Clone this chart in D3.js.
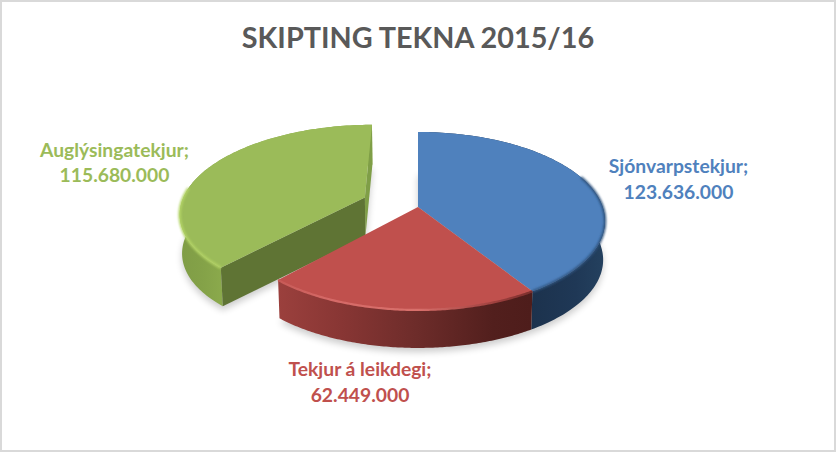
<!DOCTYPE html>
<html><head><meta charset="utf-8">
<script src="https://cdnjs.cloudflare.com/ajax/libs/d3/7.8.5/d3.min.js"></script>
<style>html,body{margin:0;padding:0;background:#fff}svg{display:block}text{font-family:Lato,"Open Sans",sans-serif;font-weight:700}</style>
</head><body><svg id="c" width="836" height="452"></svg>
<script>
const titleText = "SKIPTING TEKNA 2015/16";
const categories = ["Sjónvarpstekjur", "Tekjur á leikdegi", "Auglýsingatekjur"];
const valueLabels = ["123.636.000", "62.449.000", "115.680.000"];
const values = [123636000, 62449000, 115680000];
const explode = [0, 0, 0.3136];
const topColors = ["#4f81bd", "#c0504d", "#9bbb59"];

const svg = d3.select("#c");
const defs = svg.append("defs");
const W = 836, H = 452;
const cx = 418, cy = 207, A = 184.7, E = 86.8, k = 0.157, depth = 39, shrink = 0.99;

// ground-plane (u right, v towards viewer) -> screen, with perspective
const proj = (u, v, low) => {
  const w = 1 - k * v, s = low ? shrink : 1, d = low ? depth : 0;
  return [cx + s * A * u / w, cy + s * E * v / w + d];
};
const pie = d3.pie().value(d => d).sort(null);
const arcs = pie(values).map((a, i) => {
  const mid = (a.startAngle + a.endAngle) / 2;
  return {...a, i, ou: Math.sin(mid) * explode[i], ov: -Math.cos(mid) * explode[i]};
});
const line = d3.line();
const pt = (a, t, r, low) => proj(a.ou + r * Math.sin(t), a.ov - r * Math.cos(t), low);
const sweep = (a, low, from, to) => d3.range(0, 121).map(j => {
  const s = from ?? a.startAngle, e = to ?? a.endAngle;
  return pt(a, s + (e - s) * j / 120, 1, low);
});
const topPath = a => line([pt(a, 0, 0), ...sweep(a, false)]) + "Z";
const wallPath = (a, from, to) => line([...sweep(a, false, from, to), ...sweep(a, true, from, to).reverse()]) + "Z";
const facePath = (a, t) => line([pt(a, 0, 0), pt(a, t, 1), pt(a, t, 1, true), pt(a, 0, 0, true)]) + "Z";

// filters
const blur = (id, s) => defs.append("filter").attr("id", id)
  .attr("x", "-20%").attr("y", "-20%").attr("width", "140%").attr("height", "140%")
  .append("feGaussianBlur").attr("stdDeviation", s);
blur("shadow", 3.5); blur("soft", 0.9); blur("soft2", 0.6);

const grad = (id, x1, x2, stops) => {
  const g = defs.append("linearGradient").attr("id", id).attr("gradientUnits", "userSpaceOnUse")
    .attr("x1", x1).attr("x2", x2).attr("y1", 0).attr("y2", 0);
  stops.forEach(([o, c]) => g.append("stop").attr("offset", o).attr("stop-color", c));
};
grad("wall0", 531, 605, [[0, "#1c324d"], [0.6, "#1f3856"], [1, "#24415f"]]);
grad("wall1", 278, 531, [[0, "#9b403d"], [0.25, "#883634"], [0.55, "#6d2c2a"], [0.85, "#521f1d"], [1, "#4e1d1b"]]);
grad("wall2", 178, 228, [[0, "#7f9c46"], [0.5, "#84a248"], [1, "#8dac4d"]]);
grad("rim0", 418, 605, [[0, "#3a6496"], [1, "#2c4f78"]]);
grad("rim1", 278, 531, [[0, "#c75a57"], [0.2, "#d56a67"], [0.55, "#d9706c"], [0.85, "#a0413f"], [1, "#7d2f2d"]]);
grad("rim2", 178, 260, [[0, "#b4d566"], [0.5, "#b2d264"], [1, "#a5c55d"]]);

svg.append("rect").attr("width", W).attr("height", H).attr("fill", "#fff");

// soft drop shadows under the bottom faces
const shadow = svg.append("g").attr("filter", "url(#shadow)").attr("fill", "#000").attr("opacity", 0.2);
arcs.forEach(a => shadow.append("path")
  .attr("transform", "translate(0,4)")
  .attr("d", line([pt(a, 0, 0, true), ...sweep(a, true)]) + "Z"));

const green = arcs[2], blue = arcs[0], red = arcs[1];

// exploded slice: outer wall, thin rear face, cut face, top
svg.append("path").attr("d", wallPath(green)).attr("fill", "url(#wall2)");
svg.append("path").attr("d", facePath(green, green.endAngle)).attr("fill", "#7f9e47");
svg.append("path").attr("d", facePath(green, green.startAngle)).attr("fill", "#5f7434");
svg.append("path").attr("d", topPath(green)).attr("fill", topColors[2]);

// other slices: walls, then tops
svg.append("path").attr("d", wallPath(blue)).attr("fill", "url(#wall0)");
svg.append("path").attr("d", wallPath(red)).attr("fill", "url(#wall1)");
svg.append("path").attr("d", topPath(blue)).attr("fill", topColors[0]);
svg.append("path").attr("d", topPath(red)).attr("fill", topColors[1]);

// bevel highlights along the visible rim
const rim = (a, from, to, color, w, f) => svg.append("path")
  .attr("d", line(sweep(a, false, from, to)))
  .attr("fill", "none").attr("stroke", color).attr("stroke-width", w).attr("filter", f);
rim(blue, 1.2, blue.endAngle, "url(#rim0)", 2.4, "url(#soft)");
rim(red, red.startAngle, red.endAngle, "url(#rim1)", 2.2, "url(#soft2)");
rim(green, green.startAngle, green.startAngle + 0.95, "url(#rim2)", 2.6, "url(#soft)");

svg.append("rect").attr("x", 1).attr("y", 1).attr("width", W - 2).attr("height", H - 2)
  .attr("fill", "none").attr("stroke", "#d9d9d9").attr("stroke-width", 2);

// texts
svg.append("text").attr("x", 418).attr("y", 48).attr("text-anchor", "middle")
  .attr("font-size", 28.8).attr("fill", "#595959").text(titleText);
const labelPos = [[678.5, 173, 199], [360, 376, 402], [114.5, 157, 182]];
const labelColors = ["#4f81bd", "#c0504d", "#9bbb59"];
categories.forEach((c, i) => {
  const [x, y1, y2] = labelPos[i];
  const g = svg.append("g").attr("text-anchor", "middle").attr("font-size", 19.3).attr("fill", labelColors[i]);
  g.append("text").attr("x", x).attr("y", y1).text(c + ";");
  g.append("text").attr("x", x).attr("y", y2).text(valueLabels[i]);
});
</script></body></html>
